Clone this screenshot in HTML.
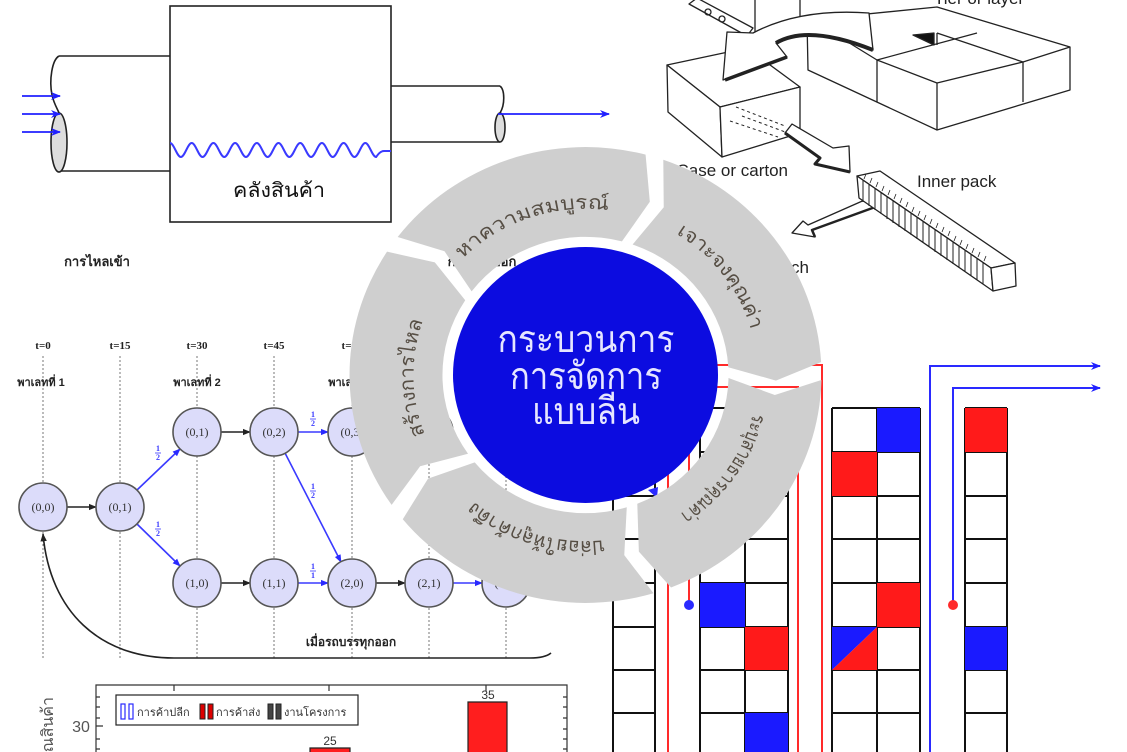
<!DOCTYPE html>
<html><head><meta charset="utf-8"><style>
html,body{margin:0;padding:0;background:#fff;width:1127px;height:752px;overflow:hidden;}
svg{display:block;overflow:hidden;}
.th{font-family:"Liberation Sans","DejaVu Sans",sans-serif;}
.sr{font-family:"Liberation Serif","DejaVu Serif",serif;}
</style></head><body>
<svg width="1127" height="752" viewBox="0 0 1127 752" xmlns="http://www.w3.org/2000/svg">
<defs>
<marker id="mb" viewBox="0 0 10 10" refX="9" refY="5" markerWidth="8" markerHeight="8" markerUnits="userSpaceOnUse" orient="auto"><path d="M0,1L10,5L0,9z" fill="#2a2aff"/></marker>
<marker id="mk" viewBox="0 0 10 10" refX="9" refY="5" markerWidth="8" markerHeight="8" markerUnits="userSpaceOnUse" orient="auto"><path d="M0,1L10,5L0,9z" fill="#222"/></marker>
<marker id="mb2" viewBox="0 0 10 10" refX="9" refY="5" markerWidth="10" markerHeight="10" markerUnits="userSpaceOnUse" orient="auto"><path d="M0,1L10,5L0,9L3,5z" fill="#2020ff"/></marker>
<path id="arc" d="M145.9,-91.1 A172,172 0 0 1 145.9,91.1"/>
<clipPath id="pg"><rect x="0" y="0" width="1127" height="752"/></clipPath>
</defs>
<g clip-path="url(#pg)">
<rect width="1127" height="752" fill="#fff"/>

<!-- ===== Warehouse diagram ===== -->
<g stroke="#222" stroke-width="1.6" fill="none">
<rect x="170" y="6" width="221" height="216" fill="#fff"/>
<line x1="59" y1="56" x2="170" y2="56"/>
<line x1="60" y1="171" x2="170" y2="171"/>
<path d="M59,56 C52,60 49,80 52,95 C54,104 58,110 59,113"/>
<ellipse cx="59" cy="142.5" rx="8" ry="29.5" fill="#ddd"/>
<line x1="391" y1="86" x2="500" y2="86"/>
<line x1="391" y1="142" x2="500" y2="142"/>
<path d="M500,86 C505,90 505,105 500,113"/>
<ellipse cx="500" cy="127.5" rx="5" ry="14.5" fill="#ddd"/>
</g>
<g stroke="#2020ff" stroke-width="1.8">
<line x1="22" y1="96" x2="60" y2="96" marker-end="url(#mb2)"/>
<line x1="22" y1="114" x2="60" y2="114" marker-end="url(#mb2)"/>
<line x1="22" y1="132" x2="60" y2="132" marker-end="url(#mb2)"/>
<line x1="498" y1="114" x2="609" y2="114" marker-end="url(#mb2)"/>
</g>
<path d="M170,143 C173.95,143 176.9,157 180.85,157 S187.75,143 191.7,143 S198.6,157 202.55,157 S209.45,143 213.4,143 S220.3,157 224.25,157 S231.15,143 235.1,143 S242,157 245.95,157 S252.85,143 256.8,143 S263.7,157 267.65,157 S274.55,143 278.5,143 S285.4,157 289.35,157 S296.25,143 300.2,143 S307.1,157 311.05,157 S317.95,143 321.9,143 S328.8,157 332.75,157 S339.65,143 343.6,143 S350.5,157 354.45,157 S361.35,143 365.3,143 S372.2,157 376.15,157 Q380,151 384,151 L391,151" stroke="#3a3aff" stroke-width="2" fill="none"/>
<text x="279" y="197" class="th" font-size="20" text-anchor="middle" fill="#111" textLength="92" lengthAdjust="spacingAndGlyphs">คลังสินค้า</text>
<text x="97" y="266" class="th" font-size="13" font-weight="bold" text-anchor="middle" fill="#222">การไหลเข้า</text>
<text x="482" y="266" class="th" font-size="13" font-weight="bold" text-anchor="middle" fill="#222">การไหลออก</text>

<!-- ===== Packaging illustration ===== -->
<g stroke="#222" stroke-width="1.3" fill="#fff" stroke-linejoin="round">
<polygon points="807,20 937,7 1070,47 1070,90 937,130 808,70"/>
<polyline fill="none" points="812,20 877,60 937,83 1023,62 1070,47"/>
<line x1="877" y1="60" x2="977" y2="33"/>
<line x1="937" y1="33" x2="1023" y2="62"/>
<line x1="877" y1="60" x2="877" y2="102"/>
<line x1="937" y1="83" x2="937" y2="130"/>
<line x1="1023" y1="62" x2="1023" y2="102"/>
<line x1="937" y1="33" x2="937" y2="45"/>
<polygon points="913,35 934,33 934,45" fill="#111"/>
<line x1="755" y1="0" x2="755" y2="33"/>
<line x1="800" y1="0" x2="800" y2="20"/>
<polygon points="689,4 697,-2 753,28 747,36"/>
<circle cx="708" cy="12" r="3" fill="none"/>
<circle cx="722" cy="19" r="3" fill="none"/>
<polygon points="667,65 747,48 800,87 720,107"/>
<polygon points="667,65 720,107 722,157 668,112"/>
<polygon points="720,107 800,87 800,133 722,157"/>
<g stroke-dasharray="3,3" stroke-width="1" fill="none">
<line x1="736" y1="107" x2="785" y2="126"/>
<line x1="742" y1="116" x2="788" y2="133"/>
<line x1="730" y1="121" x2="778" y2="137"/>
</g>
<path d="M727,32 L723,80 L787,57 L776,43 Q808,24 873,50 L869,13 Q800,8 753,33 Z"/>
<path d="M776,43 Q808,24 873,50" fill="none" stroke-width="4"/>
<path d="M725,80 L787,57" fill="none" stroke-width="3.5"/>
<polygon points="785,133 792,124 833,148 849,146 850,172 815,164 820,158"/>
<path d="M785,133 L820,158 L815,164 L850,172" fill="none" stroke-width="3"/>
<polygon points="876,195 878,206 812,230 815,237 792,233 803,221 808,225"/>
<path d="M878,206 L812,230 L815,237" fill="none" stroke-width="2.5"/>
<polygon points="857,176 880,171 1015,263 991,268"/>
<polygon points="857,176 991,268 993,291 859,198"/>
<polygon points="991,268 1015,263 1016,286 993,291"/>
<path fill="none" stroke-width="1" d="M863,180v22M869,184v22M875,188v22M881,192v22M887,197v22M893,201v22M899,205v22M905,209v22M911,213v22M917,217v22M923,221v22M929,225v22M935,230v22M941,234v22M947,238v22M953,242v22M959,246v22M965,250v22M971,254v22M977,258v22M983,262v22"/>
<path fill="none" stroke-width="0.8" d="M866,174l-2,5M872,178l-2,5M878,182l-2,5M884,186l-2,5M890,190l-2,5M896,194l-2,5M902,198l-2,5M908,202l-2,5M914,207l-2,5M920,211l-2,5M926,215l-2,5M932,219l-2,5M938,223l-2,5M944,227l-2,5M950,231l-2,5M956,236l-2,5M962,240l-2,5M968,244l-2,5M974,248l-2,5M980,252l-2,5M986,256l-2,5"/>
</g>
<g class="th" font-size="17" fill="#222">
<text x="934" y="4">Tier or layer</text>
<text x="788" y="176" text-anchor="end">Case or carton</text>
<text x="917" y="187">Inner pack</text>
<text x="809" y="273" text-anchor="end">Each</text>
</g>

<!-- ===== State graph ===== -->
<g stroke="#777" stroke-width="1" stroke-dasharray="2,2">
<line x1="43" y1="356" x2="43" y2="660"/><line x1="120" y1="356" x2="120" y2="660"/>
<line x1="197" y1="356" x2="197" y2="660"/><line x1="274" y1="356" x2="274" y2="660"/>
<line x1="352" y1="356" x2="352" y2="660"/><line x1="429" y1="356" x2="429" y2="660"/>
<line x1="506" y1="356" x2="506" y2="660"/>
</g>
<g class="sr" font-size="11" font-weight="bold" fill="#222" text-anchor="middle">
<text x="43" y="349">t=0</text><text x="120" y="349">t=15</text><text x="197" y="349">t=30</text>
<text x="274" y="349">t=45</text><text x="352" y="349">t=60</text><text x="429" y="349">t=75</text>
</g>
<g class="th" font-size="11" font-weight="bold" fill="#222" text-anchor="middle">
<text x="41" y="386">พาเลทที่ 1</text><text x="197" y="386">พาเลทที่ 2</text><text x="352" y="386">พาเลทที่ 3</text>
</g>
<g stroke-width="1.6" fill="none">
<line x1="67" y1="507" x2="96" y2="507" stroke="#222" marker-end="url(#mk)"/>
<line x1="137" y1="490" x2="180" y2="449" stroke="#3a3aff" marker-end="url(#mb)"/>
<line x1="137" y1="524" x2="180" y2="566" stroke="#3a3aff" marker-end="url(#mb)"/>
<line x1="221" y1="432" x2="250" y2="432" stroke="#222" marker-end="url(#mk)"/>
<line x1="298" y1="432" x2="328" y2="432" stroke="#3a3aff" marker-end="url(#mb)"/>
<line x1="285" y1="453" x2="341" y2="562" stroke="#3a3aff" marker-end="url(#mb)"/>
<line x1="221" y1="583" x2="250" y2="583" stroke="#222" marker-end="url(#mk)"/>
<line x1="298" y1="583" x2="328" y2="583" stroke="#3a3aff" marker-end="url(#mb)"/>
<line x1="376" y1="583" x2="405" y2="583" stroke="#222" marker-end="url(#mk)"/>
<line x1="453" y1="583" x2="482" y2="583" stroke="#3a3aff" marker-end="url(#mb)"/>
<line x1="376" y1="432" x2="405" y2="432" stroke="#222"/>
<path d="M551,653 Q545,658 530,658 L174,658 C100,658 50,612 43,534" stroke="#222" marker-end="url(#mk)"/>
</g>
<g fill="#dcdcfa" stroke="#555" stroke-width="1.6">
<circle cx="43" cy="507" r="24"/><circle cx="120" cy="507" r="24"/>
<circle cx="197" cy="432" r="24"/><circle cx="274" cy="432" r="24"/><circle cx="352" cy="432" r="24"/><circle cx="429" cy="432" r="24"/>
<circle cx="197" cy="583" r="24"/><circle cx="274" cy="583" r="24"/><circle cx="352" cy="583" r="24"/><circle cx="429" cy="583" r="24"/><circle cx="506" cy="583" r="24"/>
</g>
<g class="sr" font-size="12" fill="#333" text-anchor="middle">
<text x="43" y="511">(0,0)</text><text x="120" y="511">(0,1)</text>
<text x="197" y="436">(0,1)</text><text x="274" y="436">(0,2)</text><text x="352" y="436">(0,3)</text><text x="429" y="436">(0,4)</text>
<text x="197" y="587">(1,0)</text><text x="274" y="587">(1,1)</text><text x="352" y="587">(2,0)</text><text x="429" y="587">(2,1)</text><text x="506" y="587">(2,2)</text>
</g>
<g class="sr" font-size="8" fill="#3a3aff" text-anchor="middle" font-weight="bold">
<text x="158" y="451">1</text><text x="158" y="460">2</text>
<text x="158" y="527">1</text><text x="158" y="536">2</text>
<text x="313" y="417">1</text><text x="313" y="426">2</text>
<text x="313" y="489">1</text><text x="313" y="498">2</text>
<text x="313" y="569">1</text><text x="313" y="578">1</text>
</g>
<g stroke="#3a3aff" stroke-width="0.8">
<line x1="155" y1="453" x2="161" y2="453"/><line x1="155" y1="529" x2="161" y2="529"/>
<line x1="310" y1="419" x2="316" y2="419"/><line x1="310" y1="491" x2="316" y2="491"/>
<line x1="310" y1="571" x2="316" y2="571"/>
</g>
<text x="351" y="646" class="th" font-size="12" font-weight="bold" text-anchor="middle" fill="#222">เมื่อรถบรรทุกออก</text>

<!-- ===== Bar chart ===== -->
<g stroke="#333" stroke-width="1.2" fill="none">
<path d="M96,752V685H567V752" fill="#fff"/>
<path d="M174,685v6M329,685v6M486,685v6"/>
<path d="M567,697h-4M567,707h-4M567,718h-4M567,729h-4M567,739h-4M567,749h-4M96,697h4M96,707h4M96,718h4M96,726h7M96,739h4M96,749h4"/>
<rect x="116" y="695" width="242" height="30" stroke="#222"/>
</g>
<rect x="121" y="704" width="4" height="15" fill="#fff" stroke="#2a2aff" stroke-width="1.2"/>
<rect x="129" y="704" width="4" height="15" fill="#fff" stroke="#2a2aff" stroke-width="1.2"/>
<rect x="200" y="704" width="5" height="15" fill="#d00" stroke="#222"/>
<rect x="208" y="704" width="5" height="15" fill="#d00" stroke="#222"/>
<rect x="268" y="704" width="5" height="15" fill="#444" stroke="#222"/>
<rect x="276" y="704" width="5" height="15" fill="#444" stroke="#222"/>
<g class="th" font-size="11" fill="#333">
<text x="137" y="716">การค้าปลีก</text><text x="216" y="716">การค้าส่ง</text><text x="284" y="716">งานโครงการ</text>
</g>
<text x="81" y="732" class="th" font-size="16" fill="#555" text-anchor="middle">30</text>
<text transform="translate(53,697) rotate(-90)" class="th" font-size="16" fill="#555" text-anchor="end">ปริมาณสินค้า</text>
<path d="M468,752V702H507V752" fill="#ff1e1e" stroke="#222" stroke-width="1.2"/>
<path d="M310,752V748H350V752" fill="#ff1e1e" stroke="#222" stroke-width="1.2"/>
<text x="488" y="699" class="th" font-size="12" fill="#333" text-anchor="middle">35</text>
<text x="330" y="745" class="th" font-size="12" fill="#333" text-anchor="middle">25</text>

<!-- ===== Grid / kanban ===== -->
<g stroke="#111" stroke-width="2" fill="none">
<path d="M613,408V752M655,408V752M613,408H655M613,452H655M613,496H655M613,539H655M613,583H655M613,627H655M613,670H655M613,713H655"/>
<path d="M700,408V752M745,408V752M788,408V752M700,408H788M700,452H788M700,496H788M700,539H788M700,583H788M700,627H788M700,670H788M700,713H788"/>
<path d="M832,408V752M877,408V752M920,408V752M832,408H920M832,452H920M832,496H920M832,539H920M832,583H920M832,627H920M832,670H920M832,713H920"/>
<path d="M965,408V752M1007,408V752M965,408H1007M965,452H1007M965,496H1007M965,539H1007M965,583H1007M965,627H1007M965,670H1007M965,713H1007"/>
</g>
<g>
<rect x="700" y="583" width="45" height="44" fill="#1a1aff"/>
<rect x="745" y="627" width="43" height="43" fill="#ff1a1a"/>
<rect x="745" y="713" width="43" height="39" fill="#1a1aff"/>
<rect x="877" y="408" width="43" height="44" fill="#1a1aff"/>
<rect x="832" y="452" width="45" height="44" fill="#ff1a1a"/>
<rect x="877" y="583" width="43" height="44" fill="#ff1a1a"/>
<polygon points="832,627 877,627 832,670" fill="#1a1aff"/>
<polygon points="877,627 877,670 832,670" fill="#ff1a1a"/>
<rect x="965" y="408" width="42" height="44" fill="#ff1a1a"/>
<rect x="965" y="627" width="42" height="43" fill="#1a1aff"/>
</g>
<g stroke="#ff2a2a" stroke-width="2" fill="none">
<path d="M668,752V365H822V752"/>
<path d="M689,605V387H798V752"/>
</g>
<circle cx="689" cy="605" r="5" fill="#2a2aff"/>
<g stroke="#2a2aff" stroke-width="2" fill="none">
<path d="M930,752V366H1100" marker-end="url(#mb2)"/>
<path d="M953,605V388H1100" marker-end="url(#mb2)"/>
</g>
<circle cx="953" cy="605" r="5" fill="#ff2a2a"/>
<polygon points="648,490 658,487 657,498" fill="#2a2aff"/>

<!-- ===== Central cycle ===== -->
<g transform="translate(585.5,375) scale(1,0.966)">
<g fill="#cfcfcf">
<path d="M196.2,-131.1 A236,236 0 0 1 196.2,131.1 L148.6,119.2 L118.9,79.5 A143,143 0 0 0 118.9,-79.5 L167,-91.6 Z" transform="rotate(251)"/>
<path d="M196.2,-131.1 A236,236 0 0 1 196.2,131.1 L148.6,119.2 L118.9,79.5 A143,143 0 0 0 118.9,-79.5 L167,-91.6 Z" transform="rotate(323)"/>
<path d="M196.2,-131.1 A236,236 0 0 1 196.2,131.1 L148.6,119.2 L118.9,79.5 A143,143 0 0 0 118.9,-79.5 L167,-91.6 Z" transform="rotate(35)"/>
<path d="M196.2,-131.1 A236,236 0 0 1 196.2,131.1 L148.6,119.2 L118.9,79.5 A143,143 0 0 0 118.9,-79.5 L167,-91.6 Z" transform="rotate(107)"/>
<path d="M196.2,-131.1 A236,236 0 0 1 196.2,131.1 L148.6,119.2 L118.9,79.5 A143,143 0 0 0 118.9,-79.5 L167,-91.6 Z" transform="rotate(179)"/>
</g>
<g class="th" font-size="20" fill="#564e44">
<text transform="rotate(251)"><textPath href="#arc" startOffset="50%" text-anchor="middle" textLength="160" lengthAdjust="spacingAndGlyphs">หาความสมบูรณ์</textPath></text>
<text transform="rotate(323)"><textPath href="#arc" startOffset="50%" text-anchor="middle" textLength="127" lengthAdjust="spacingAndGlyphs">เจาะจงคุณค่า</textPath></text>
<text transform="rotate(35)"><textPath href="#arc" startOffset="50%" text-anchor="middle" textLength="130" lengthAdjust="spacingAndGlyphs">ระบุสายธารคุณค่า</textPath></text>
<text transform="rotate(107)"><textPath href="#arc" startOffset="50%" text-anchor="middle" textLength="140" lengthAdjust="spacingAndGlyphs">ปล่อยให้ลูกค้าดึง</textPath></text>
<text transform="rotate(179)"><textPath href="#arc" startOffset="50%" text-anchor="middle" textLength="120" lengthAdjust="spacingAndGlyphs">สร้างการไหล</textPath></text>
</g>
<circle cx="0" cy="0" r="132.5" fill="#0c0ce0"/>
</g>
<g class="th" font-size="38" fill="#e6e6ff" text-anchor="middle">
<text x="586" y="352" textLength="177" lengthAdjust="spacingAndGlyphs">กระบวนการ</text>
<text x="586" y="389" textLength="152" lengthAdjust="spacingAndGlyphs">การจัดการ</text>
<text x="586" y="424" textLength="108" lengthAdjust="spacingAndGlyphs">แบบลีน</text>
</g>
</g>
</svg>
</body></html>
